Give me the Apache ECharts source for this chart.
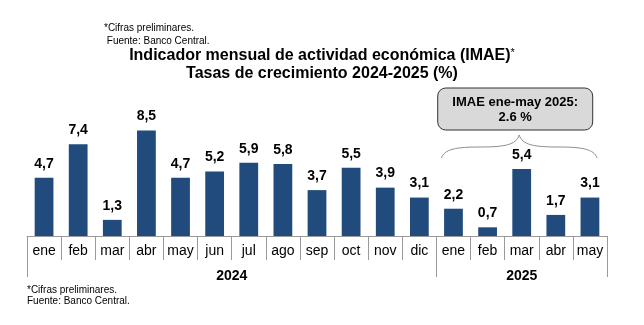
<!DOCTYPE html>
<html><head><meta charset="utf-8">
<script src="https://cdn.jsdelivr.net/npm/echarts@6/dist/echarts.min.js"></script>
<style>html,body{margin:0;padding:0;background:#fff}#c{width:644px;height:325px}</style>
</head><body><div id="c"></div>
<script>
const months = ['ene','feb','mar','abr','may','jun','jul','ago','sep','oct','nov','dic','ene','feb','mar','abr','may'];
const values = [4.7,7.4,1.3,8.5,4.7,5.2,5.9,5.8,3.7,5.5,3.9,3.1,2.2,0.7,5.4,1.7,3.1];
const years = ['2024','2025'];
const yearCounts = [12,5];
const noteLines = ['*Cifras preliminares.','Fuente: Banco Central.'];
const boxLines = ['IMAE ene-may 2025:','2.6 %'];

const FONT = 'Liberation Sans, Arial, sans-serif';
const BAR = '#214a7d';
const GRAYLINE = '#9a9a9a';

const chart = echarts.init(document.getElementById('c'), null, {renderer:'canvas'});
chart.setOption({
  animation:false,
  textStyle:{fontFamily:FONT},
  title:[{
    text:'Indicador mensual de actividad económica (IMAE){s|*}\nTasas de crecimiento 2024-2025 (%)',
    left:'center', top:47, itemGap:0, padding:0,
    textStyle:{fontFamily:FONT,fontSize:16,fontWeight:'bold',color:'#000',lineHeight:18,
      rich:{s:{fontFamily:FONT,fontSize:11,fontWeight:'normal',verticalAlign:'top',lineHeight:11,padding:[0,0,8,0]}}}
  },{
    text:noteLines[0]+'\n '+noteLines[1], left:104, top:21.5, padding:0,
    textStyle:{fontFamily:FONT,fontSize:10,fontWeight:'normal',color:'#000',lineHeight:13}
  },{
    text:noteLines[0]+'\n'+noteLines[1], left:27, top:285, padding:0,
    textStyle:{fontFamily:FONT,fontSize:10,fontWeight:'normal',color:'#000',lineHeight:10.5}
  }],
  grid:{left:27,width:580,top:112,height:124,containLabel:false},
  xAxis:{type:'category',data:months,
    axisLine:{lineStyle:{color:GRAYLINE,width:1}},
    axisTick:{show:true,interval:0,length:24,lineStyle:{color:GRAYLINE}},
    axisLabel:{interval:0,fontFamily:FONT,fontSize:14,color:'#000',margin:8}
  },
  yAxis:{type:'value',min:0,max:10,show:false,splitLine:{show:false}},
  series:[{type:'bar',data:values,barCategoryGap:'45%',
    itemStyle:{color:BAR},
    label:{show:true,position:'top',distance:7,fontFamily:FONT,fontSize:14,fontWeight:'bold',color:'#000',
      formatter:p=>p.value.toFixed(1).replace('.',',')}
  }]
});

// group separators and year labels from the axis scale
const c0 = chart.convertToPixel({xAxisIndex:0}, 0);
const c1 = chart.convertToPixel({xAxisIndex:0}, 1);
const bw = c1 - c0;
const yAxisPx = chart.convertToPixel({yAxisIndex:0}, 0);
const g = [];
let idx = 0;
const bounds = [c0 - bw/2];
yearCounts.forEach((n,i)=>{
  const xs = c0 - bw/2 + idx*bw;
  const xe = xs + n*bw;
  bounds.push(xe);
  g.push({type:'text',x:(xs+xe)/2,y:yAxisPx+40,style:{text:years[i],font:'bold 14px '+FONT,fill:'#000',align:'center',verticalAlign:'middle'}});
  idx += n;
});
bounds.forEach(b=>{
  const xx = Math.round(b)+0.5;
  g.push({type:'line',shape:{x1:xx,y1:yAxisPx,x2:xx,y2:yAxisPx+41},style:{stroke:GRAYLINE,lineWidth:1}});
});
// brace over 2025
const x1 = bounds[1] + 5, x2 = bounds[2] - 10, xm = (x1+x2)/2;
const yb = 158, ym = 147, yt = 135;
const braceStyle = {stroke:'#8c8c8c',lineWidth:1,fill:null};
const qL = (x1+xm)/2, qR = (xm+x2)/2;
g.push({type:'bezierCurve',shape:{x1:x1,y1:yb,cpx1:x1+3,cpy1:ym+2,cpx2:x1+15,cpy2:ym,x2:qL,y2:ym},style:braceStyle});
g.push({type:'bezierCurve',shape:{x1:qL,y1:ym,cpx1:xm-15,cpy1:ym,cpx2:xm-3,cpy2:ym-2,x2:xm,y2:yt},style:braceStyle});
g.push({type:'bezierCurve',shape:{x1:xm,y1:yt,cpx1:xm+3,cpy1:ym-2,cpx2:xm+15,cpy2:ym,x2:qR,y2:ym},style:braceStyle});
g.push({type:'bezierCurve',shape:{x1:qR,y1:ym,cpx1:x2-15,cpy1:ym,cpx2:x2-3,cpy2:ym+2,x2:x2,y2:yb},style:braceStyle});
// box
g.push({type:'rect',shape:{x:xm-81.5,y:88,width:155,height:42,r:8},style:{fill:'#d9d9d9',stroke:'#333',lineWidth:1}});
g.push({type:'text',x:xm-4,y:102,style:{text:boxLines[0],font:'bold 13px '+FONT,fill:'#000',align:'center',verticalAlign:'middle'}});
g.push({type:'text',x:xm-4,y:117,style:{text:boxLines[1],font:'bold 13px '+FONT,fill:'#000',align:'center',verticalAlign:'middle'}});
chart.setOption({graphic:g});
</script></body></html>
